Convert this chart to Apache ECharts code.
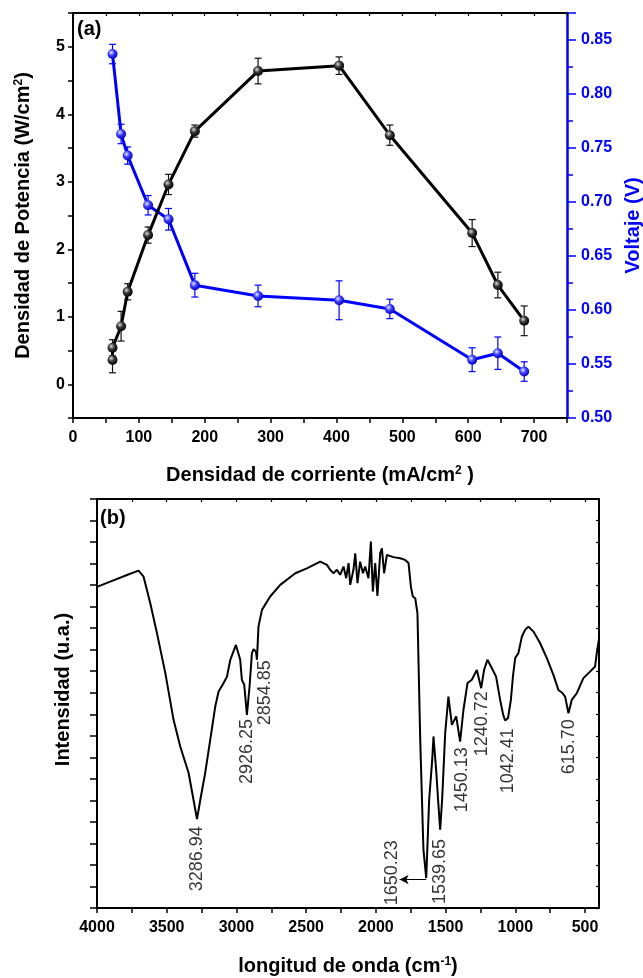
<!DOCTYPE html>
<html>
<head>
<meta charset="utf-8">
<script src="https://cdn.jsdelivr.net/npm/echarts@6/dist/echarts.min.js"></script>
<style>
  html, body { margin: 0; padding: 0; background: #fff; }
  #chart { width: 643px; height: 978px; }
</style>
</head>
<body>
<div id="chart"></div>
<script>
// (a) power density / voltage vs current density
const powerCurrent = [60, 60, 73, 83, 114, 145, 185, 281, 404, 481, 606, 645, 685];
const power = [0.36, 0.54, 0.86, 1.37, 2.21, 2.96, 3.75, 4.64, 4.72, 3.69, 2.24, 1.47, 0.94];
const powerErr = [0.19, 0.12, 0.22, 0.12, 0.12, 0.15, 0.09, 0.19, 0.13, 0.15, 0.20, 0.19, 0.22];
const voltCurrent = [60, 73, 83, 114, 145, 185, 281, 404, 481, 606, 645, 685];
const voltage = [0.837, 0.763, 0.743, 0.697, 0.684, 0.623, 0.613, 0.609, 0.601, 0.554, 0.560, 0.543];
const voltErr = [0.009, 0.009, 0.008, 0.009, 0.010, 0.011, 0.010, 0.018, 0.009, 0.011, 0.015, 0.009];

// (b) FTIR spectrum
const wavenumber = [
  4000, 3905, 3785, 3702, 3666, 3618, 3570, 3510, 3451, 3403,
  3343, 3308, 3283, 3259, 3224, 3188, 3152, 3128, 3092, 3068,
  3044, 3004, 2973, 2961, 2944, 2925, 2906, 2889, 2877, 2860,
  2853, 2842, 2817, 2758, 2686, 2578, 2495, 2399, 2351, 2328,
  2304, 2280, 2256, 2232, 2213, 2196, 2184, 2161, 2148, 2132,
  2113, 2093, 2077, 2053, 2036, 2022, 2005, 1989, 1969, 1957,
  1941, 1921, 1874, 1826, 1790, 1766, 1749, 1735, 1718, 1702,
  1682, 1659, 1639, 1618, 1596, 1587, 1568, 1554, 1539, 1525,
  1503, 1480, 1455, 1424, 1396, 1372, 1343, 1312, 1276, 1245,
  1224, 1200, 1168, 1138, 1109, 1087, 1073, 1052, 1032, 1016,
  1001, 978, 953, 930, 906, 870, 822, 774, 727, 691,
  664, 643, 619, 595, 559, 512, 464, 428, 416, 400
];
const intensity = [
  14.92, 15.16, 15.47, 15.67, 15.39, 14.16, 12.77, 10.91, 8.74, 7.50,
  6.27, 5.03, 4.13, 5.03, 6.28, 7.81, 9.36, 10.06, 10.45, 10.75,
  11.53, 12.22, 11.53, 10.60, 10.37, 8.97, 10.29, 11.84, 12.02, 11.91,
  11.53, 13.07, 13.85, 14.47, 15.01, 15.55, 15.78, 16.09, 15.94, 15.71,
  15.55, 15.71, 15.48, 15.86, 15.32, 16.02, 15.01, 15.71, 16.48, 15.09,
  16.09, 15.55, 15.86, 15.32, 17.02, 14.70, 16.02, 14.50, 16.48, 16.71,
  15.55, 16.40, 16.30, 16.25, 16.17, 16.03, 14.93, 14.47, 14.39, 13.70,
  7.81, 2.71, 1.39, 5.03, 6.89, 7.97, 6.42, 5.03, 3.64, 5.03,
  8.12, 9.82, 8.51, 8.90, 7.73, 9.21, 10.45, 10.60, 11.06, 10.21,
  11.06, 11.53, 11.14, 10.75, 9.67, 8.97, 8.71, 8.83, 9.67, 10.83,
  11.61, 11.84, 12.61, 12.92, 13.07, 12.84, 12.30, 11.61, 10.83, 10.13,
  10.00, 9.82, 9.05, 9.67, 9.98, 10.68, 10.98, 11.22, 11.84, 12.50
];
const peakText = ['3286.94', '2926.25', '2854.85', '1650.23', '1539.65', '1450.13', '1240.72', '1042.41', '615.70'];
const peakLabelWn = [3283, 2925, 2794, 1885, 1539, 1383, 1240, 1049, 612];
const peakLabelY = [2.29, 7.27, 10.0, 1.64, 1.70, 5.96, 8.56, 6.84, 7.49];
const waveTicks = [4000, 3750, 3500, 3250, 3000, 2750, 2500, 2250, 2000, 1750, 1500, 1250, 1000, 750, 500];
const waveLabels = [4000, 3500, 3000, 2500, 2000, 1500, 1000, 500];

const FONT = 'Liberation Sans';
const BLUE = '#0000ff';

const chart = echarts.init(document.getElementById('chart'), null, { renderer: 'canvas' });

function ball(hi, mid, edge) {
  return {
    type: 'radial', x: 0.38, y: 0.35, r: 0.7,
    colorStops: [{ offset: 0, color: hi }, { offset: 0.45, color: mid }, { offset: 1, color: edge }]
  };
}

function errorBars(color) {
  return function (params, api) {
    const x = api.value(0);
    const lo = api.coord([x, api.value(1)]);
    const hi = api.coord([x, api.value(2)]);
    const w = 3.5;
    const style = { stroke: color, lineWidth: 1.2 };
    return {
      type: 'group',
      children: [
        { type: 'line', shape: { x1: lo[0], y1: lo[1], x2: hi[0], y2: hi[1] }, style },
        { type: 'line', shape: { x1: hi[0] - w, y1: hi[1], x2: hi[0] + w, y2: hi[1] }, style },
        { type: 'line', shape: { x1: lo[0] - w, y1: lo[1], x2: lo[0] + w, y2: lo[1] }, style }
      ]
    };
  };
}

const tickLbl = { fontFamily: FONT, fontWeight: 'bold', fontSize: 16, color: '#000' };
const richName = (color) => ({
  fontFamily: FONT, fontWeight: 'bold', fontSize: 20, color,
  rich: {
    b: { fontFamily: FONT, fontWeight: 'bold', fontSize: 20, color },
    s: { fontFamily: FONT, fontWeight: 'bold', fontSize: 12, color, verticalAlign: 'top' }
  }
});
const blackLine = { onZero: false, lineStyle: { color: '#000', width: 2 } };

const option = {
  backgroundColor: '#fff',
  animation: false,
  grid: [
    { left: 73, top: 13, width: 494, height: 405, outerBoundsMode: 'none' },
    { left: 97, top: 499, width: 502, height: 409, outerBoundsMode: 'none' }
  ],
  graphic: [
    { type: 'text', left: 77, top: 19, style: { text: '(a)', font: 'bold 20px "Liberation Sans"', fill: '#000' } },
    { type: 'text', left: 100, top: 508, style: { text: '(b)', font: 'bold 20px "Liberation Sans"', fill: '#000' } }
  ],
  xAxis: [
    {
      gridIndex: 0, type: 'value', min: 0, max: 750, interval: 50, position: 'bottom',
      axisLine: blackLine,
      axisTick: { inside: false, length: 5, lineStyle: { color: '#000', width: 1.5 } },
      axisLabel: Object.assign({ margin: 12, formatter: v => (v % 100 === 0 ? String(v) : '') }, tickLbl),
      splitLine: { show: false },
      name: '{b|Densidad de corriente (mA/cm}{s|2}{b| )}',
      nameLocation: 'middle', nameGap: 47, nameTextStyle: richName('#000')
    },
    {
      gridIndex: 0, type: 'value', min: 0, max: 750, interval: 50, position: 'top',
      axisLine: blackLine,
      axisTick: { inside: true, length: 3, lineStyle: { color: '#000', width: 1.2 } },
      axisLabel: { show: false }, splitLine: { show: false }
    },
    {
      gridIndex: 1, type: 'value', min: 400, max: 4000, inverse: true, position: 'bottom',
      axisLine: blackLine,
      axisTick: { customValues: waveTicks, inside: false, length: 5, lineStyle: { color: '#000', width: 1.5 } },
      axisLabel: Object.assign({ customValues: waveLabels, margin: 12, formatter: v => String(v) }, tickLbl),
      splitLine: { show: false },
      name: '{b|longitud de onda (cm}{s|-1}{b|)}',
      nameLocation: 'middle', nameGap: 48, nameTextStyle: richName('#000')
    },
    {
      gridIndex: 1, type: 'value', min: 400, max: 4000, inverse: true, position: 'top',
      axisLine: blackLine,
      axisTick: { customValues: waveTicks, inside: true, length: 3, lineStyle: { color: '#000', width: 1.2 } },
      axisLabel: { show: false }, splitLine: { show: false }
    }
  ],
  yAxis: [
    {
      gridIndex: 0, type: 'value', min: -0.5, max: 5.5, interval: 0.5, position: 'left',
      axisLine: blackLine,
      axisTick: { inside: false, length: 5, lineStyle: { color: '#000', width: 1.5 } },
      axisLabel: Object.assign({ margin: 8, formatter: v => (Math.abs(v - Math.round(v)) < 1e-6 ? String(Math.round(v)) : '') }, tickLbl),
      splitLine: { show: false },
      name: '{b|Densidad de Potencia (W/cm}{s|2}{b|)}',
      nameLocation: 'middle', nameGap: 40, nameTextStyle: richName('#000')
    },
    {
      gridIndex: 0, type: 'value', min: 0.5, max: 0.875, interval: 0.05, position: 'right',
      axisLine: { onZero: false, lineStyle: { color: BLUE, width: 2.5 } },
      axisTick: { inside: false, length: 9, lineStyle: { color: BLUE, width: 1.5 } },
      minorTick: { show: true, splitNumber: 2, length: 6, lineStyle: { color: BLUE, width: 1.5 } },
      axisLabel: Object.assign({}, tickLbl, {
        color: BLUE, margin: 14,
        formatter: v => (Math.round(v * 1000) % 50 === 0 ? v.toFixed(2) : '')
      }),
      splitLine: { show: false }, minorSplitLine: { show: false },
      name: 'Voltaje (V)',
      nameLocation: 'middle', nameGap: 56,
      nameTextStyle: { fontFamily: FONT, fontWeight: 'bold', fontSize: 20, color: BLUE, padding: [0, 20, 0, 0] }
    },
    {
      gridIndex: 1, type: 'value', min: 0, max: 19, interval: 1, position: 'left',
      axisLine: blackLine,
      axisTick: { inside: false, length: 7, lineStyle: { color: '#000', width: 1.5 } },
      axisLabel: { show: false }, splitLine: { show: false },
      name: 'Intensidad (u.a.)',
      nameLocation: 'middle', nameGap: 24,
      nameTextStyle: { fontFamily: FONT, fontWeight: 'bold', fontSize: 20, color: '#000', padding: [0, 0, 0, 28] }
    },
    {
      gridIndex: 1, type: 'value', min: 0, max: 19, interval: 1, position: 'right',
      axisLine: blackLine,
      axisTick: { inside: true, length: 3, lineStyle: { color: '#000', width: 1.2 } },
      axisLabel: { show: false }, splitLine: { show: false }
    }
  ],
  series: [
    {
      type: 'custom', xAxisIndex: 0, yAxisIndex: 1, z: 2,
      renderItem: errorBars(BLUE), encode: { x: 0, y: [1, 2] },
      data: voltCurrent.map((x, i) => [x, voltage[i] - voltErr[i], voltage[i] + voltErr[i]])
    },
    {
      type: 'line', xAxisIndex: 0, yAxisIndex: 1, z: 3,
      data: voltCurrent.map((x, i) => [x, voltage[i]]),
      symbol: 'circle', symbolSize: 10, showAllSymbol: true,
      lineStyle: { color: BLUE, width: 3 },
      itemStyle: { color: ball('#e6e8ff', '#3a3aff', '#0000b0') }
    },
    {
      type: 'custom', xAxisIndex: 0, yAxisIndex: 0, z: 4,
      renderItem: errorBars('#111'), encode: { x: 0, y: [1, 2] },
      data: powerCurrent.map((x, i) => [x, power[i] - powerErr[i], power[i] + powerErr[i]])
    },
    {
      type: 'line', xAxisIndex: 0, yAxisIndex: 0, z: 5,
      data: powerCurrent.map((x, i) => [x, power[i]]),
      symbol: 'circle', symbolSize: 10, showAllSymbol: true,
      lineStyle: { color: '#000', width: 3 },
      itemStyle: { color: ball('#d8d8d8', '#333', '#000') }
    },
    {
      type: 'line', xAxisIndex: 2, yAxisIndex: 2, z: 3,
      data: wavenumber.map((w, i) => [w, intensity[i]]),
      symbol: 'none',
      lineStyle: { color: '#000', width: 2 },
      markLine: {
        silent: true, symbol: ['none', 'arrow'], symbolSize: [7, 9],
        lineStyle: { color: '#000', width: 1, type: 'solid' },
        label: { show: false },
        data: [[{ coord: [1639, 1.32] }, { coord: [1830, 1.32] }]]
      }
    },
    {
      type: 'scatter', xAxisIndex: 2, yAxisIndex: 2, z: 6,
      symbolSize: 0.1, itemStyle: { color: 'rgba(0,0,0,0)' },
      data: peakText.map((t, i) => ({ name: t, value: [peakLabelWn[i], peakLabelY[i]] })),
      label: {
        show: true, position: 'inside', rotate: 90, formatter: p => p.name,
        fontFamily: FONT, fontSize: 18, color: '#000'
      }
    }
  ]
};

chart.setOption(option);
</script>
</body>
</html>
